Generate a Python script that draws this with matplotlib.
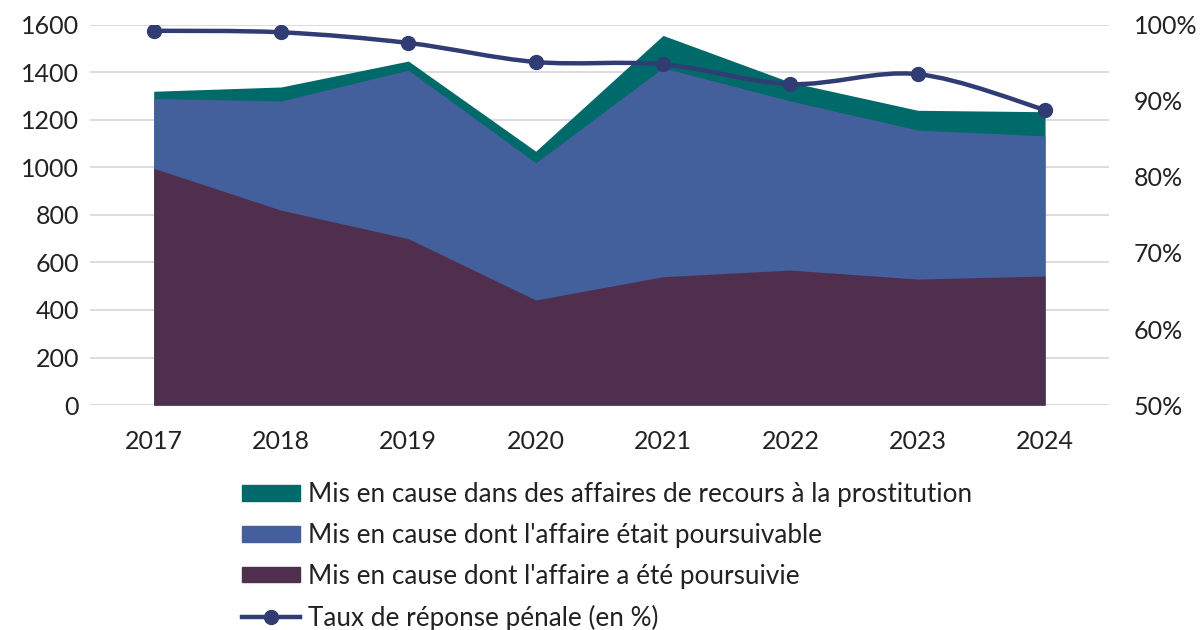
import numpy as np
import matplotlib
matplotlib.use("Agg")
from matplotlib import pyplot as plt
from matplotlib.path import Path
from matplotlib.patches import PathPatch
from matplotlib.lines import Line2D
from matplotlib.patches import Patch

plt.rcParams["font.family"] = ["Lato", "DejaVu Sans"]

years = ["2017", "2018", "2019", "2020", "2021", "2022", "2023", "2024"]
recours_prostitution = [1320, 1338, 1447, 1068, 1555, 1358, 1240, 1234]
poursuivable = [1290, 1279, 1409, 1019, 1419, 1279, 1157, 1132]
poursuivie = [996, 820, 700, 442, 540, 568, 530, 543]
taux_reponse = [99.2, 99.0, 97.6, 95.1, 94.8, 92.2, 93.5, 88.8]

labels = [
    "Mis en cause dans des affaires de recours à la prostitution",
    "Mis en cause dont l'affaire était poursuivable",
    "Mis en cause dont l'affaire a été poursuivie",
    "Taux de réponse pénale (en %)",
]

c_green = "#006a6a"
c_blue = "#44609c"
c_purple = "#502f4e"
c_line = "#303c74"
c_text = "#222222"


def smooth_path(x, y):
    # Excel-like smoothed line: Catmull-Rom turned into cubic Bezier segments
    pts = np.column_stack([x, y]).astype(float)
    verts = [pts[0]]
    codes = [Path.MOVETO]
    n = len(pts)
    for i in range(n - 1):
        p0 = pts[max(i - 1, 0)]
        p1 = pts[i]
        p2 = pts[i + 1]
        p3 = pts[min(i + 2, n - 1)]
        verts += [p1 + (p2 - p0) / 6, p2 - (p3 - p1) / 6, p2]
        codes += [Path.CURVE4] * 3
    return Path(verts, codes)


fig = plt.figure(figsize=(12.02, 6.30), dpi=100)
ax = fig.add_axes([0.0749, 0.357, 0.8475, 0.6038])
x = np.arange(len(years))

ax.fill_between(x, 0, recours_prostitution, color=c_green, lw=0, zorder=2)
ax.fill_between(x, 0, poursuivable, color=c_blue, lw=0, zorder=3)
ax.fill_between(x, 0, poursuivie, color=c_purple, lw=0, zorder=4)

ax.set_xlim(-0.5, len(years) - 0.5)
ax.set_ylim(0, 1600)
ax.set_yticks(np.arange(0, 1601, 200))
ax.set_xticks(x)
ax.set_xticklabels(years)
ax.grid(axis="y", color="#d9d9d9", lw=1.3, zorder=0)
ax.set_axisbelow(True)
for s in ax.spines.values():
    s.set_visible(False)
ax.tick_params(length=0, labelsize=18, colors=c_text, pad=8)
ax.tick_params(axis="x", pad=18)

ax2 = ax.twinx()
ax2.set_ylim(50, 100)
ax2.set_yticks(np.arange(50, 101, 10))
ax2.set_yticklabels([f"{v}%" for v in range(50, 101, 10)])
for s in ax2.spines.values():
    s.set_visible(False)
ax2.tick_params(length=0, labelsize=18, colors=c_text, pad=18)
ax2.add_patch(PathPatch(smooth_path(x, taux_reponse), fill=False, ec=c_line,
                        lw=3.2, capstyle="round", zorder=5))
ax2.plot(x, taux_reponse, ls="none", marker="o", ms=10, color=c_line, zorder=6)

handles = [
    Patch(color=c_green),
    Patch(color=c_blue),
    Patch(color=c_purple),
    Line2D([], [], color=c_line, lw=3.2, marker="o", ms=10),
]
fig.legend(handles, labels, loc="upper center", bbox_to_anchor=(0.505, 0.255),
           frameon=False, fontsize=18.8, labelcolor=c_text, handlelength=2.2,
           handleheight=0.55, handletextpad=0.3, labelspacing=0.6, borderpad=0)

fig.savefig("out.png", dpi=100)
